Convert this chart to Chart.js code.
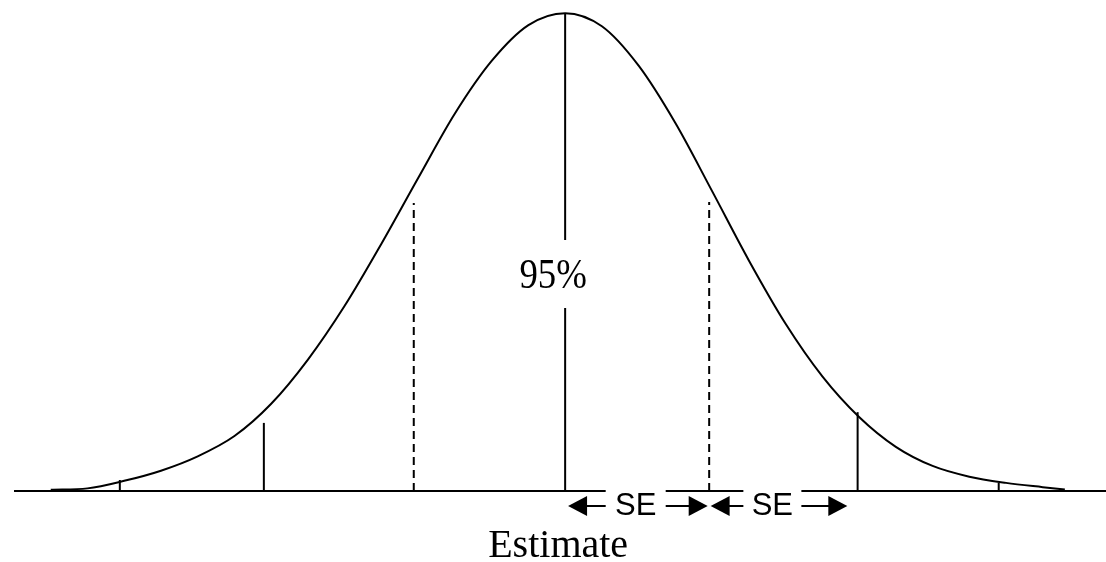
<!DOCTYPE html>
<html>
<head>
<meta charset="utf-8">
<script src="https://cdn.jsdelivr.net/npm/chart.js@4.4.1/dist/chart.umd.min.js"></script>
<style>
  body { margin: 0; background: #fff; }
  #wrap { width: 1106px; height: 562px; position: relative; }
</style>
</head>
<body>
<div id="wrap"><canvas id="chart"></canvas></div>
<script>
"use strict";

// x is measured in standard errors from the estimate, y is the height of the curve
const curveX = [-3.5, -3.25, -3, -2.75, -2.5, -2.25, -2, -1.75, -1.5, -1.25, -1, -0.75, -0.5, -0.25, 0,
  0.25, 0.5, 0.75, 1, 1.25, 1.5, 1.75, 2, 2.25, 2.5, 2.75, 3, 3.25, 3.4];
const curveY = [0.001, 0.0022, 0.0085, 0.017, 0.029, 0.046, 0.073, 0.11, 0.155, 0.207, 0.262, 0.316, 0.36, 0.39, 0.4,
  0.389, 0.356, 0.308, 0.251, 0.193, 0.14, 0.096, 0.062, 0.037, 0.021, 0.012, 0.0068, 0.0032, 0.0012];

// vertical marks under the curve
const markX = [-3.03, -2.05, -1.03, 0, 0.98, 1.99, 2.95];
const markTop = [0.0092, 0.057, 0.241, 0.4, 0.242, 0.066, 0.0067];
const markDashed = [false, false, true, false, true, false, false];

const axisRange = [-3.75, 3.68];
const centreLabel = "95%";
const bottomLabel = "Estimate";
const seLabel = "SE";

const datasets = [];

datasets.push({
  data: curveX.map((x, i) => ({ x: x, y: curveY[i] })),
  borderColor: "#000",
  borderWidth: 2,
  cubicInterpolationMode: "monotone",
  pointRadius: 0,
  clip: false
});

datasets.push({
  data: axisRange.map((x) => ({ x: x, y: 0 })),
  borderColor: "#000",
  borderWidth: 2,
  pointRadius: 0,
  clip: false
});

for (let i = 0; i < markX.length; i++) {
  datasets.push({
    data: [{ x: markX[i], y: 0 }, { x: markX[i], y: markTop[i] }],
    borderColor: "#000",
    borderWidth: 2,
    borderDash: markDashed[i] ? [8, 5] : [],
    pointRadius: 0,
    clip: false
  });
}

function arrowHead(ctx, tipX, y, dir) {
  ctx.beginPath();
  ctx.moveTo(tipX, y);
  ctx.lineTo(tipX - dir * 19, y - 10);
  ctx.lineTo(tipX - dir * 19, y + 10);
  ctx.closePath();
  ctx.fill();
}

const labelsPlugin = {
  id: "labels",
  afterDraw(chart) {
    const ctx = chart.ctx;
    const xs = chart.scales.x;
    const base = chart.scales.y.getPixelForValue(0);
    const cx = xs.getPixelForValue(0);
    ctx.save();

    // 95% sits in a gap of the centre line
    ctx.fillStyle = "#fff";
    ctx.fillRect(cx - 46, base - 251, 72, 68);
    ctx.fillStyle = "#000";
    ctx.textAlign = "center";
    ctx.textBaseline = "alphabetic";
    ctx.save();
    ctx.translate(cx - 12, base - 203);
    ctx.scale(0.92, 1.08);
    ctx.font = "40px 'Liberation Serif'";
    ctx.fillText(centreLabel, 0, 0);
    ctx.restore();

    // SE arrows under the axis
    const seArrows = [
      { from: 0.02, to: 0.97, mid: 0.48, half: 30 },
      { from: 0.99, to: 1.92, mid: 1.41, half: 29 }
    ];
    ctx.font = "31px 'Liberation Sans'";
    const ay = base + 15;
    seArrows.forEach((a) => {
      const x1 = xs.getPixelForValue(a.from);
      const x2 = xs.getPixelForValue(a.to);
      const xm = xs.getPixelForValue(a.mid);
      ctx.fillStyle = "#fff";
      ctx.fillRect(xm - a.half, base - 3, a.half * 2, 30);
      ctx.fillStyle = "#000";
      ctx.fillText(seLabel, xm, base + 24);
      arrowHead(ctx, x1, ay, -1);
      arrowHead(ctx, x2, ay, 1);
      ctx.fillRect(x1 + 18, ay - 1, xm - a.half - x1 - 18, 2);
      ctx.fillRect(xm + a.half, ay - 1, x2 - 18 - xm - a.half, 2);
    });

    ctx.font = "40px 'Liberation Serif'";
    ctx.fillText(bottomLabel, cx - 7, base + 66);
    ctx.restore();
  }
};

new Chart(document.getElementById("chart"), {
  type: "line",
  data: { datasets: datasets },
  options: {
    responsive: true,
    maintainAspectRatio: false,
    animation: false,
    layout: { padding: { left: 14, right: 0, top: 0, bottom: 71 } },
    plugins: { legend: { display: false }, tooltip: { enabled: false } },
    scales: {
      x: { type: "linear", min: axisRange[0], max: axisRange[1], display: false },
      y: { min: 0, max: 0.411, display: false }
    }
  },
  plugins: [labelsPlugin]
});
</script>
</body>
</html>
